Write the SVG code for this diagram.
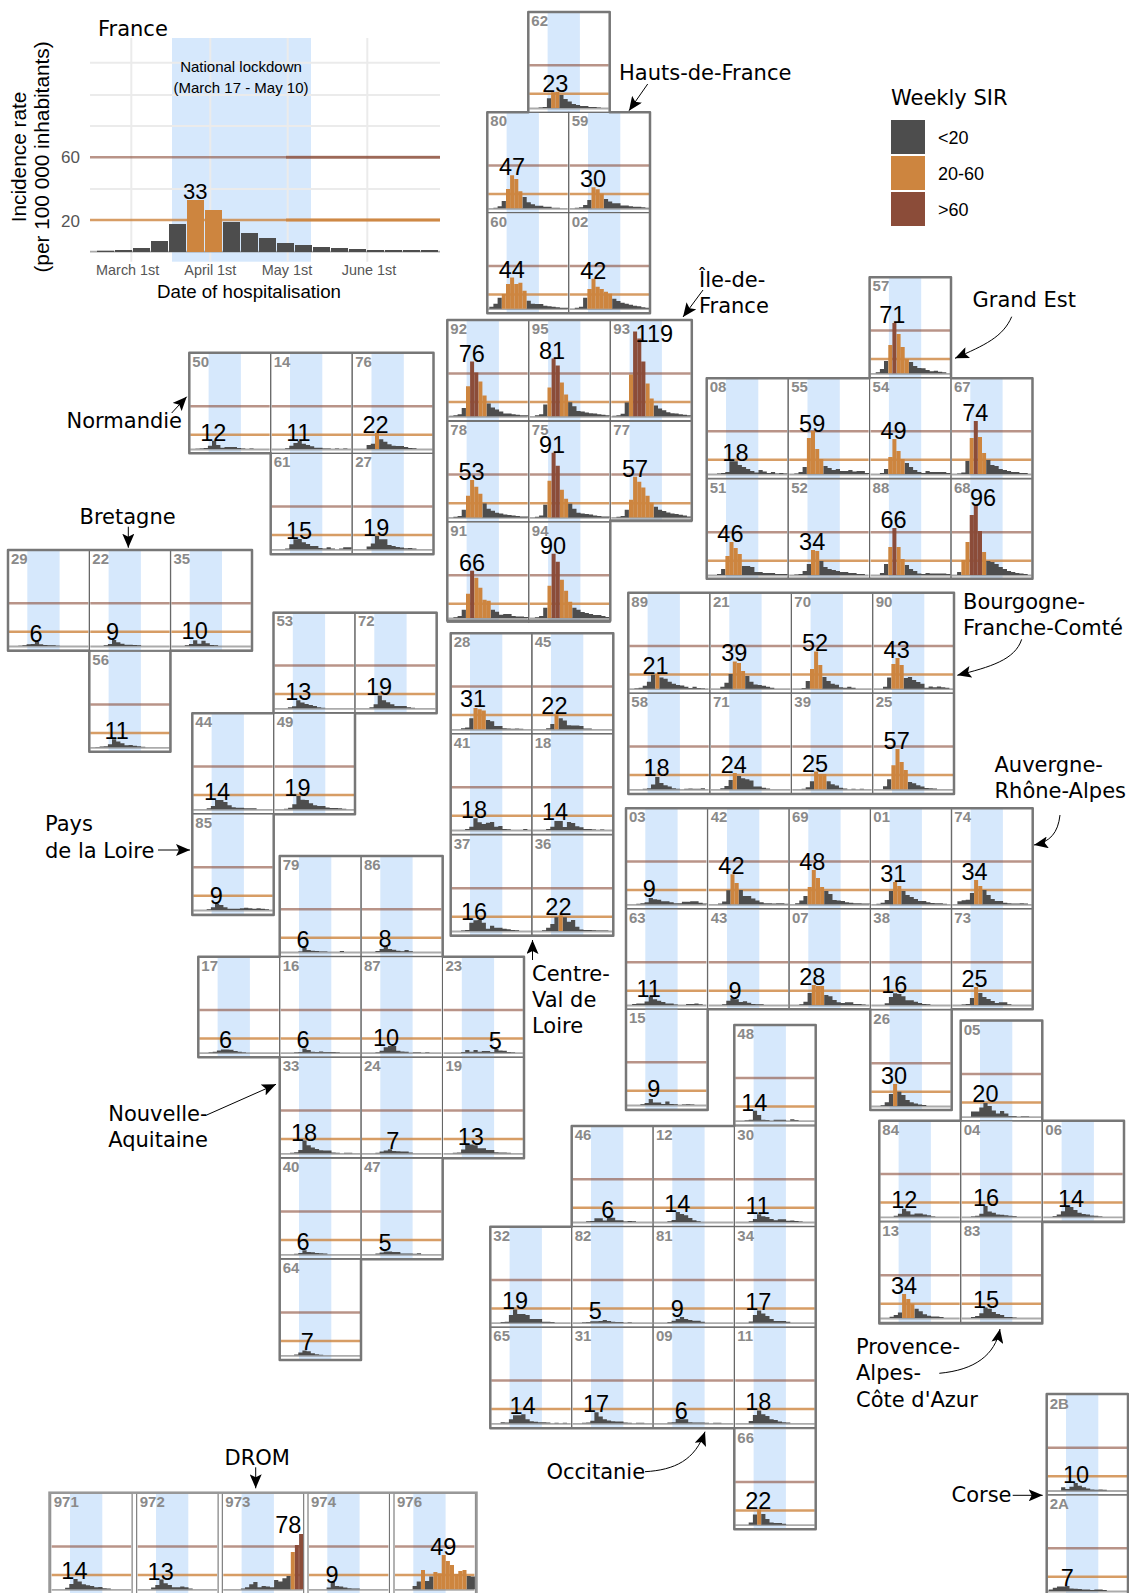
<svg xmlns="http://www.w3.org/2000/svg" width="1129" height="1593" viewBox="0 0 1129 1593">
<style>
text{font-family:"Liberation Sans",Arial,sans-serif;fill:#000}
.r{font-family:"DejaVu Sans",sans-serif;font-size:21px}
.n{font-size:15px;font-weight:bold;fill:#8a8a8a}
.v{font-size:23.5px;text-anchor:middle}
.t{font-size:14.4px;fill:#555;text-anchor:middle}
.d,.o,.b{fill:none;stroke-width:4}
.d{stroke:#4d4d4d;stroke-width:4.2}.o{stroke:#cd853f}.b{stroke:#8b4c39}
.d.f,.o.f{stroke-width:17}
.gl{stroke:#ebebeb;stroke-width:2;fill:none}
.lb{stroke:#8b4c39;stroke-opacity:.6;stroke-width:2.5}
.lo{stroke:#cd853f;stroke-opacity:.8;stroke-width:2.5}
.bs{stroke:#888;stroke-opacity:.7;stroke-width:1.8}
.bd{fill:#d6e8fc}
.cb{fill:none;stroke:#666;stroke-width:1}
.rg{fill:none;stroke:#777;stroke-width:2.5;stroke-linejoin:round}
.ar{fill:none;stroke:#000;stroke-width:1;marker-end:url(#a)}
</style>
<defs>
<marker id="a" markerUnits="userSpaceOnUse" markerWidth="15" markerHeight="12" refX="14" refY="6" orient="auto"><path d="M0 0L14 6 0 12 3 6z" fill="#000"/></marker>
<g id="c"><rect class="bd" x="19.3" y="-95.5" width="32.3" height="99.5"/><path class="lb" d="M1-42.8H80.4"/><path class="lo" d="M1-14.2H80.4"/><path class="bs" d="M1 .5H80.4"/><rect class="cb" y="-96" width="81.4" height="100.3"/></g>
</defs>
<rect width="1129" height="1593" fill="#fff"/>
<g id="france">
<rect class="bd" x="172" y="38" width="139" height="223.7"/>
<path class="gl" d="M90 62.7H440M90 95H440M90 126H440M90 189H440M131.3 38V261.7M210.3 38V261.7M287.7 38V261.7M367.3 38V261.7"/>
<path class="lb" d="M90 157.3H440"/><path stroke="#8b4c39" stroke-opacity=".6" stroke-width="3" d="M286 157.3H440"/>
<path class="lo" d="M90 220H440"/><path stroke="#cd853f" stroke-opacity=".85" stroke-width="3" d="M286 220H440"/>
<path class="bs" d="M90 251.7H440"/>
<path class="d f" d="M105.5 252V250.7M123.5 252V250M141.5 252V248M159.5 252V241M177.5 252V224M231.5 252V222M249.5 252V233M267.5 252V238M285.5 252V243M303.5 252V245M321.5 252V247M339.5 252V248M357.5 252V249M375.5 252V250M393.5 252V250M411.5 252V250M429.5 252V250"/>
<path class="o f" d="M195.5 252V200M213.5 252V210"/>
<text x="98" y="36" class="r">France</text>
<text x="241" y="71.7" text-anchor="middle" font-size="15">National lockdown</text>
<text x="241" y="92.7" text-anchor="middle" font-size="15">(March 17 - May 10)</text>
<text x="195.3" y="199" text-anchor="middle" font-size="22">33</text>
<text x="80" y="163.3" text-anchor="end" font-size="17" style="fill:#555">60</text>
<text x="80" y="226.7" text-anchor="end" font-size="17" style="fill:#555">20</text>
<text class="t" x="127.7" y="275">March 1st</text><text class="t" x="210.3" y="275">April 1st</text><text class="t" x="287" y="275">May 1st</text><text class="t" x="369" y="275">June 1st</text>
<text x="249" y="297.7" text-anchor="middle" font-size="18.7">Date of hospitalisation</text>
<text transform="translate(26 157) rotate(-90)" text-anchor="middle" font-size="20.8">Incidence rate</text>
<text transform="translate(49 157) rotate(-90)" text-anchor="middle" font-size="20.8">(per 100 000 inhabitants)</text>
</g>
<g id="legend">
<text class="r" x="891" y="105">Weekly SIR</text>
<rect x="891" y="120" width="34" height="34" fill="#4d4d4d"/><rect x="891" y="156" width="34" height="34" fill="#cd853f"/><rect x="891" y="192" width="34" height="34" fill="#8b4c39"/>
<text x="938" y="143.5" font-size="18">&lt;20</text><text x="938" y="179.8" font-size="18">20-60</text><text x="938" y="215.8" font-size="18">&gt;60</text>
</g>
<g id="c62" transform="translate(528.3 108)"><use href="#c"/><text class="n" x="3" y="-82">62</text><path class="d" d="M12.4 0V-.5M16.5 0V-1M20.7 0V-9.7M33.1 0V-13M37.3 0V-9M41.4 0V-6.5M45.6 0V-4M49.7 0V-3M53.9 0V-2M58 0V-2M62.2 0V-1M66.3 0V-1M70.5 0V-.5"/><path class="o" d="M24.8 0V-15.7M29 0V-16.3"/><text class="v" x="27" y="-16.5">23</text></g>
<g id="c80" transform="translate(487.3 208.3)"><use href="#c"/><text class="n" x="3" y="-82">80</text><path class="d" d="M8.2 0V-.5M12.4 0V-2M16.5 0V-7.3M37.3 0V-11.3M41.4 0V-6M45.6 0V-4M49.7 0V-2.5M53.9 0V-2.5M58 0V-1.5M62.2 0V-1.5M66.3 0V-.5M70.5 0V-.5"/><path class="o" d="M20.7 0V-19.3M24.8 0V-33M29 0V-29.3M33.1 0V-17"/><text class="v" x="24.7" y="-33">47</text></g>
<g id="c59" transform="translate(568.7 208.3)"><use href="#c"/><text class="n" x="3" y="-82">59</text><path class="d" d="M8.2 0V-.5M12.4 0V-1M16.5 0V-3.3M20.7 0V-8.3M37.3 0V-9.3M41.4 0V-6.7M45.6 0V-5M49.7 0V-5M53.9 0V-2.7M58 0V-2.7M62.2 0V-2M66.3 0V-1.5M70.5 0V-1.5M74.6 0V-1M78.8 0V-.5"/><path class="o" d="M24.8 0V-21M29 0V-19M33.1 0V-14.5"/><text class="v" x="24.4" y="-21">30</text></g>
<g id="c60" transform="translate(487.3 308.7)"><use href="#c"/><text class="n" x="3" y="-82">60</text><path class="d" d="M4.1 0V-2M8.2 0V-5M12.4 0V-11M41.4 0V-8M45.6 0V-5M49.7 0V-4.7M53.9 0V-4.7M58 0V-3M62.2 0V-2.5M66.3 0V-2M70.5 0V-1.5M74.6 0V-1M78.8 0V-1"/><path class="o" d="M16.5 0V-14.7M20.7 0V-24.7M24.8 0V-31.3M29 0V-24.7M33.1 0V-26M37.3 0V-18"/><text class="v" x="24.4" y="-31">44</text></g>
<g id="c02" transform="translate(568.7 308.7)"><use href="#c"/><text class="n" x="3" y="-82">02</text><path class="d" d="M8.2 0V-1M12.4 0V-2M16.5 0V-11M45.6 0V-10M49.7 0V-7.7M53.9 0V-6M58 0V-5M62.2 0V-4M66.3 0V-3M70.5 0V-2.5M74.6 0V-1.5M78.8 0V-1"/><path class="o" d="M20.7 0V-19.7M24.8 0V-30M29 0V-22M33.1 0V-19.7M37.3 0V-17M41.4 0V-15"/><text class="v" x="24.6" y="-30">42</text></g>
<g id="c92" transform="translate(447.3 416.3)"><use href="#c"/><text class="n" x="3" y="-82">92</text><path class="d" d="M4.1 0V-.5M8.2 0V-1M12.4 0V-2M16.5 0V-8.3M41.4 0V-12.7M45.6 0V-8.7M49.7 0V-6.7M53.9 0V-4.7M58 0V-2.7M62.2 0V-2.7M66.3 0V-2M70.5 0V-1.5M74.6 0V-1M78.8 0V-1"/><path class="o" d="M20.7 0V-30M33.1 0V-34.7M37.3 0V-20.7"/><path class="b" d="M24.8 0V-54.7M29 0V-43.7"/><text class="v" x="24.4" y="-54">76</text></g>
<g id="c95" transform="translate(528.8 416.3)"><use href="#c"/><text class="n" x="3" y="-82">95</text><path class="d" d="M8.2 0V-1M12.4 0V-2M16.5 0V-11.7M41.4 0V-14M45.6 0V-10M49.7 0V-5.3M53.9 0V-4.7M58 0V-3.7M62.2 0V-3M66.3 0V-2.7M70.5 0V-2M74.6 0V-1.5M78.8 0V-1"/><path class="o" d="M20.7 0V-28.7M33.1 0V-33.7M37.3 0V-21.7"/><path class="b" d="M24.8 0V-57.7M29 0V-50.7"/><text class="v" x="23.3" y="-57.4">81</text></g>
<g id="c93" transform="translate(610.3 416.3)"><use href="#c"/><text class="n" x="3" y="-82">93</text><path class="d" d="M4.1 0V-.5M8.2 0V-1M12.4 0V-2.5M16.5 0V-13.7M45.6 0V-10.7M49.7 0V-7.7M53.9 0V-6M58 0V-4M62.2 0V-3M66.3 0V-2.7M70.5 0V-2M74.6 0V-1.5M78.8 0V-1"/><path class="o" d="M20.7 0V-41.7M37.3 0V-32.7M41.4 0V-17.7"/><path class="b" d="M24.8 0V-84.7M29 0V-77.7M33.1 0V-54.7"/><text class="v" x="44" y="-74.6">119</text></g>
<g id="c78" transform="translate(447.3 517.4)"><use href="#c"/><text class="n" x="3" y="-82">78</text><path class="d" d="M8.2 0V-.7M12.4 0V-1.5M16.5 0V-7.7M37.3 0V-14M41.4 0V-8.7M45.6 0V-6.7M49.7 0V-4.7M53.9 0V-4M58 0V-3M62.2 0V-2.5M66.3 0V-2M70.5 0V-1.5M74.6 0V-1M78.8 0V-1"/><path class="o" d="M20.7 0V-21.7M24.8 0V-37.3M29 0V-30.7M33.1 0V-23.7"/><text class="v" x="24.3" y="-37.3">53</text></g>
<g id="c75" transform="translate(528.8 517.4)"><use href="#c"/><text class="n" x="3" y="-82">75</text><path class="d" d="M8.2 0V-.7M12.4 0V-2M16.5 0V-12.7M41.4 0V-13.7M45.6 0V-8.7M49.7 0V-4.7M53.9 0V-4M58 0V-3.5M62.2 0V-3M66.3 0V-2M70.5 0V-1.5M74.6 0V-1M78.8 0V-1"/><path class="o" d="M20.7 0V-36.7M33.1 0V-27.7M37.3 0V-18.7"/><path class="b" d="M24.8 0V-64.7M29 0V-51.7"/><text class="v" x="23.3" y="-64.7">91</text></g>
<g id="c77" transform="translate(610.3 517.4)"><use href="#c"/><text class="n" x="3" y="-82">77</text><path class="d" d="M8.2 0V-.7M12.4 0V-1.5M16.5 0V-7.7M45.6 0V-10.7M49.7 0V-7.7M53.9 0V-6.5M58 0V-5M62.2 0V-4M66.3 0V-3.3M70.5 0V-2.7M74.6 0V-2M78.8 0V-1"/><path class="o" d="M20.7 0V-17.7M24.8 0V-40.7M29 0V-35.7M33.1 0V-30M37.3 0V-21.7M41.4 0V-14.7"/><text class="v" x="24.7" y="-40.7">57</text></g>
<g id="c91" transform="translate(447.3 618)"><use href="#c"/><text class="n" x="3" y="-82">91</text><path class="d" d="M8.2 0V-.7M12.4 0V-2M16.5 0V-8.3M45.6 0V-8.3M49.7 0V-6.3M53.9 0V-3.3M58 0V-4M62.2 0V-4M66.3 0V-2M70.5 0V-1.5M74.6 0V-1.5M78.8 0V-1"/><path class="o" d="M20.7 0V-24.3M29 0V-40.3M33.1 0V-30.3M37.3 0V-18.3M41.4 0V-17.3"/><path class="b" d="M24.8 0V-47.3"/><text class="v" x="24.7" y="-47">66</text></g>
<g id="c94" transform="translate(528.8 618)"><use href="#c"/><text class="n" x="3" y="-82">94</text><path class="d" d="M8.2 0V-.7M12.4 0V-2M16.5 0V-10.3M45.6 0V-10.3M49.7 0V-8.3M53.9 0V-6M58 0V-5M62.2 0V-4M66.3 0V-3M70.5 0V-3M74.6 0V-2M78.8 0V-1"/><path class="o" d="M20.7 0V-32.3M33.1 0V-38.3M37.3 0V-27.3M41.4 0V-16.3"/><path class="b" d="M24.8 0V-64.3M29 0V-56.3"/><text class="v" x="24.3" y="-64">90</text></g>
<g id="c57" transform="translate(869.6 373.3)"><use href="#c"/><text class="n" x="3" y="-82">57</text><path class="d" d="M8.2 0V-1M12.4 0V-4.3M16.5 0V-12.3M41.4 0V-11.3M45.6 0V-7.3M49.7 0V-5.3M53.9 0V-5M58 0V-3.3M62.2 0V-2M66.3 0V-2.5M70.5 0V-1.5M74.6 0V-1"/><path class="o" d="M20.7 0V-28.3M29 0V-39.3M33.1 0V-26.3M37.3 0V-14.3"/><path class="b" d="M24.8 0V-50.3"/><text class="v" x="22.7" y="-50.3">71</text></g>
<g id="c08" transform="translate(706.7 474)"><use href="#c"/><text class="n" x="3" y="-82">08</text><path class="d" d="M12.4 0V-.5M16.5 0V-1M20.7 0V-2M24.8 0V-12.7M29 0V-12.7M33.1 0V-9M37.3 0V-7M41.4 0V-5M45.6 0V-3M49.7 0V-1.5M53.9 0V-4M58 0V-2.5M62.2 0V-1M66.3 0V-2M70.5 0V-.5M74.6 0V-1M78.8 0V-.5"/><text class="v" x="28.7" y="-13">18</text></g>
<g id="c55" transform="translate(788.2 474)"><use href="#c"/><text class="n" x="3" y="-82">55</text><path class="d" d="M8.2 0V-.5M12.4 0V-2M16.5 0V-7M37.3 0V-8M41.4 0V-6M45.6 0V-4M49.7 0V-5M53.9 0V-3M58 0V-3M62.2 0V-4M66.3 0V-2.5M70.5 0V-3M74.6 0V-3M78.8 0V-1"/><path class="o" d="M20.7 0V-36M24.8 0V-43M29 0V-25M33.1 0V-15"/><text class="v" x="24" y="-42">59</text></g>
<g id="c54" transform="translate(869.6 474)"><use href="#c"/><text class="n" x="3" y="-82">54</text><path class="d" d="M12.4 0V-1M16.5 0V-5M37.3 0V-11M41.4 0V-7M45.6 0V-4M49.7 0V-2M53.9 0V-1M58 0V-3M62.2 0V-2M66.3 0V-2M70.5 0V-2M74.6 0V-2M78.8 0V-1"/><path class="o" d="M20.7 0V-17M24.8 0V-35M29 0V-23M33.1 0V-15"/><text class="v" x="24" y="-35">49</text></g>
<g id="c67" transform="translate(951 474)"><use href="#c"/><text class="n" x="3" y="-82">67</text><path class="d" d="M8.2 0V-.5M12.4 0V-1.5M16.5 0V-13M37.3 0V-14M41.4 0V-9M45.6 0V-8M49.7 0V-5M53.9 0V-4M58 0V-3M62.2 0V-2M66.3 0V-2M70.5 0V-1M74.6 0V-1"/><path class="o" d="M20.7 0V-36M29 0V-37M33.1 0V-21"/><path class="b" d="M24.8 0V-53"/><text class="v" x="24.3" y="-53">74</text></g>
<g id="c51" transform="translate(706.7 575)"><use href="#c"/><text class="n" x="3" y="-82">51</text><path class="d" d="M12.4 0V-1M16.5 0V-6M37.3 0V-9M41.4 0V-9M45.6 0V-8M49.7 0V-3M53.9 0V-3M58 0V-2M62.2 0V-2M66.3 0V-2M70.5 0V-1M74.6 0V-1M78.8 0V-1"/><path class="o" d="M20.7 0V-19M24.8 0V-33M29 0V-27M33.1 0V-21"/><text class="v" x="23.7" y="-33">46</text></g>
<g id="c52" transform="translate(788.2 575)"><use href="#c"/><text class="n" x="3" y="-82">52</text><path class="d" d="M8.2 0V-.5M12.4 0V-1M16.5 0V-4M20.7 0V-11M33.1 0V-14M37.3 0V-8M41.4 0V-6M45.6 0V-5M49.7 0V-4M53.9 0V-3M58 0V-3M62.2 0V-2M66.3 0V-2M70.5 0V-1M74.6 0V-1"/><path class="o" d="M24.8 0V-25M29 0V-24"/><text class="v" x="24" y="-25">34</text></g>
<g id="c88" transform="translate(869.6 575)"><use href="#c"/><text class="n" x="3" y="-82">88</text><path class="d" d="M12.4 0V-2M16.5 0V-11M37.3 0V-10M41.4 0V-6M45.6 0V-4M49.7 0V-1.5M53.9 0V-1M58 0V-2M62.2 0V-1.5M66.3 0V-1.5M70.5 0V-1.5M74.6 0V-1.5M78.8 0V-1"/><path class="o" d="M20.7 0V-28M29 0V-28M33.1 0V-16"/><path class="b" d="M24.8 0V-47"/><text class="v" x="24" y="-47">66</text></g>
<g id="c68" transform="translate(951 575)"><use href="#c"/><text class="n" x="3" y="-82">68</text><path class="d" d="M8.2 0V-3M37.3 0V-14M41.4 0V-13M45.6 0V-11M49.7 0V-8M53.9 0V-6M58 0V-4M62.2 0V-3M66.3 0V-2M70.5 0V-1.5M74.6 0V-1"/><path class="o" d="M12.4 0V-15M16.5 0V-33M33.1 0V-23"/><path class="b" d="M20.7 0V-60M24.8 0V-70M29 0V-44"/><text class="v" x="32" y="-69">96</text></g>
<g id="c50" transform="translate(189.3 449)"><use href="#c"/><text class="n" x="3" y="-82">50</text><path class="d" d="M8.2 0V-.3M12.4 0V-.5M16.5 0V-1M20.7 0V-3.3M24.8 0V-8.3M29 0V-4M33.1 0V-1.3M37.3 0V-2M41.4 0V-2M45.6 0V-2M49.7 0V-1M53.9 0V-.5M62.2 0V-.5"/><text class="v" x="24" y="-8.5">12</text></g>
<g id="c14" transform="translate(270.7 449)"><use href="#c"/><text class="n" x="3" y="-82">14</text><path class="d" d="M16.5 0V-.7M20.7 0V-3.3M24.8 0V-6M29 0V-8M33.1 0V-5.3M37.3 0V-4M41.4 0V-2.7M45.6 0V-1.3M49.7 0V-1.3M53.9 0V-.5M58 0V-.5M66.3 0V-.5M74.6 0V-.5"/><text class="v" x="27.7" y="-8">11</text></g>
<g id="c76" transform="translate(352.2 449)"><use href="#c"/><text class="n" x="3" y="-82">76</text><path class="d" d="M16.5 0V-4M20.7 0V-5.3M29 0V-9.7M33.1 0V-7.3M37.3 0V-4.7M41.4 0V-3.3M45.6 0V-3M49.7 0V-3M53.9 0V-2M58 0V-1M62.2 0V-.7"/><path class="o" d="M24.8 0V-16"/><text class="v" x="23.3" y="-16">22</text></g>
<g id="c61" transform="translate(270.7 549.3)"><use href="#c"/><text class="n" x="3" y="-82">61</text><path class="d" d="M16.5 0V-.7M20.7 0V-5M24.8 0V-10M29 0V-10.3M33.1 0V-7M37.3 0V-5.3M41.4 0V-3.3M45.6 0V-3.3M49.7 0V-1.3M53.9 0V-.7M58 0V-2M62.2 0V-.7M70.5 0V-.7M74.6 0V-2M78.8 0V-2"/><text class="v" x="28.3" y="-10.5">15</text></g>
<g id="c27" transform="translate(352.2 549.3)"><use href="#c"/><text class="n" x="3" y="-82">27</text><path class="d" d="M16.5 0V-2.7M20.7 0V-5.7M24.8 0V-13.3M29 0V-10M33.1 0V-10M37.3 0V-4.3M41.4 0V-3.3M45.6 0V-2.3M49.7 0V-1.7M53.9 0V-1M58 0V-1.3M62.2 0V-.7"/><text class="v" x="24" y="-13.3">19</text></g>
<g id="c29" transform="translate(8 646)"><use href="#c"/><text class="n" x="3" y="-82">29</text><path class="d" d="M12.4 0V-.3M16.5 0V-.7M20.7 0V-1.7M24.8 0V-2M29 0V-4.2M33.1 0V-1.7M37.3 0V-1M41.4 0V-.7M45.6 0V-.7M49.7 0V-.3"/><text class="v" x="28" y="-4.5">6</text></g>
<g id="c22" transform="translate(89.3 646)"><use href="#c"/><text class="n" x="3" y="-82">22</text><path class="d" d="M16.5 0V-.7M20.7 0V-2M24.8 0V-6M29 0V-3.7M33.1 0V-2.3M37.3 0V-1.3M41.4 0V-1.3M45.6 0V-1M49.7 0V-.7"/><text class="v" x="23.3" y="-6.3">9</text></g>
<g id="c35" transform="translate(170.4 646)"><use href="#c"/><text class="n" x="3" y="-82">35</text><path class="d" d="M16.5 0V-.7M20.7 0V-2M24.8 0V-5.7M29 0V-2.3M33.1 0V-5.3M37.3 0V-2.7M41.4 0V-1M45.6 0V-.7"/><text class="v" x="24.3" y="-7">10</text></g>
<g id="c56" transform="translate(89.3 747.3)"><use href="#c"/><text class="n" x="3" y="-82">56</text><path class="d" d="M8.2 0V-.3M12.4 0V-.7M16.5 0V-1M20.7 0V-3M24.8 0V-8M29 0V-5.7M33.1 0V-4M37.3 0V-2M41.4 0V-2.3M45.6 0V-1.5M49.7 0V-1M53.9 0V-.5"/><text class="v" x="27.3" y="-8">11</text></g>
<g id="c53" transform="translate(273.5 708.3)"><use href="#c"/><text class="n" x="3" y="-82">53</text><path class="d" d="M16.5 0V-1M20.7 0V-2M24.8 0V-8M29 0V-5.7M33.1 0V-4.3M37.3 0V-3.3M41.4 0V-2.3M45.6 0V-1M49.7 0V-.5"/><text class="v" x="24.7" y="-8.7">13</text></g>
<g id="c72" transform="translate(355 708.3)"><use href="#c"/><text class="n" x="3" y="-82">72</text><path class="d" d="M16.5 0V-1M20.7 0V-4M24.8 0V-12.7M29 0V-8M33.1 0V-6M37.3 0V-4M41.4 0V-2.3M45.6 0V-2.3M49.7 0V-2.3M53.9 0V-1M58 0V-.5"/><text class="v" x="24" y="-13">19</text></g>
<g id="c44" transform="translate(192.3 809.3)"><use href="#c"/><text class="n" x="3" y="-82">44</text><path class="d" d="M16.5 0V-1M20.7 0V-3.3M24.8 0V-9.3M29 0V-9.3M33.1 0V-7.3M37.3 0V-4M41.4 0V-2M45.6 0V-1.5M49.7 0V-1.5M53.9 0V-1M58 0V-1M62.2 0V-1"/><text class="v" x="24.7" y="-9.7">14</text></g>
<g id="c49" transform="translate(273.7 809.3)"><use href="#c"/><text class="n" x="3" y="-82">49</text><path class="d" d="M12.4 0V-.5M16.5 0V-1.5M20.7 0V-5M24.8 0V-13.3M29 0V-9.5M33.1 0V-9.3M37.3 0V-6M41.4 0V-4M45.6 0V-3.3M49.7 0V-3.3M53.9 0V-1.7M58 0V-1.3M62.2 0V-1.3M66.3 0V-1M70.5 0V-.5"/><text class="v" x="23.7" y="-13.7">19</text></g>
<g id="c85" transform="translate(192.3 910)"><use href="#c"/><text class="n" x="3" y="-82">85</text><path class="d" d="M16.5 0V-.7M20.7 0V-2.7M24.8 0V-6.3M29 0V-5M33.1 0V-2.7M37.3 0V-1.3M41.4 0V-1.3M45.6 0V-1.3M49.7 0V-1.7M53.9 0V-2.3M58 0V-1.7M62.2 0V-1.3M66.3 0V-1.7M70.5 0V-1.3M74.6 0V-.7"/><text class="v" x="24" y="-6.3">9</text></g>
<g id="c28" transform="translate(450.7 729.3)"><use href="#c"/><text class="n" x="3" y="-82">28</text><path class="d" d="M12.4 0V-1M16.5 0V-1.7M20.7 0V-11M37.3 0V-9.3M41.4 0V-8M45.6 0V-3.3M49.7 0V-3.3M53.9 0V-1M58 0V-.7M62.2 0V-.5M66.3 0V-.7M70.5 0V-.5"/><path class="o" d="M24.8 0V-21.3M29 0V-20M33.1 0V-18.7"/><text class="v" x="22.3" y="-22">31</text></g>
<g id="c45" transform="translate(531.7 729.3)"><use href="#c"/><text class="n" x="3" y="-82">45</text><path class="d" d="M16.5 0V-1M20.7 0V-5.3M29 0V-11M33.1 0V-8.7M37.3 0V-4M41.4 0V-3.7M45.6 0V-3.7M49.7 0V-3.3M53.9 0V-.7M58 0V-.7"/><path class="o" d="M24.8 0V-15"/><text class="v" x="22.7" y="-15">22</text></g>
<g id="c41" transform="translate(450.7 830)"><use href="#c"/><text class="n" x="3" y="-82">41</text><path class="d" d="M16.5 0V-1M20.7 0V-3.3M24.8 0V-11.7M29 0V-7.7M33.1 0V-6M37.3 0V-7.3M41.4 0V-8M45.6 0V-3.3M49.7 0V-4M53.9 0V-1M58 0V-.7M74.6 0V-1"/><text class="v" x="23.3" y="-12">18</text></g>
<g id="c18" transform="translate(531.7 830)"><use href="#c"/><text class="n" x="3" y="-82">18</text><path class="d" d="M16.5 0V-1M20.7 0V-3.3M24.8 0V-9M29 0V-9M33.1 0V-3M37.3 0V-8M41.4 0V-7M45.6 0V-3.7M49.7 0V-2.7M53.9 0V-1M58 0V-1M62.2 0V-.5M70.5 0V-.5"/><text class="v" x="23.3" y="-10">14</text></g>
<g id="c37" transform="translate(450.7 931)"><use href="#c"/><text class="n" x="3" y="-82">37</text><path class="d" d="M12.4 0V-.5M16.5 0V-1M20.7 0V-8.3M24.8 0V-10.7M29 0V-11M33.1 0V-8.3M37.3 0V-2.3M41.4 0V-5.3M45.6 0V-3.3M49.7 0V-3.3M53.9 0V-2.3M58 0V-1.7M62.2 0V-1M66.3 0V-.7"/><text class="v" x="23.3" y="-11.3">16</text></g>
<g id="c36" transform="translate(531.7 931)"><use href="#c"/><text class="n" x="3" y="-82">36</text><path class="d" d="M12.4 0V-.7M16.5 0V-3.3M20.7 0V-7M24.8 0V-13.7M33.1 0V-13.7M37.3 0V-9.3M41.4 0V-11M45.6 0V-4.3M49.7 0V-1.5M53.9 0V-1M58 0V-1M62.2 0V-.7M66.3 0V-.5M70.5 0V-.5M74.6 0V-.5"/><path class="o" d="M29 0V-15.7"/><text class="v" x="26.7" y="-16">22</text></g>
<g id="c89" transform="translate(628.3 688.7)"><use href="#c"/><text class="n" x="3" y="-82">89</text><path class="d" d="M8.2 0V-.5M12.4 0V-1M16.5 0V-3M20.7 0V-7M24.8 0V-14M33.1 0V-11.3M37.3 0V-10M41.4 0V-7M45.6 0V-5M49.7 0V-3.7M53.9 0V-3.3M58 0V-2M62.2 0V-.7M66.3 0V-2M70.5 0V-.7M74.6 0V-.5"/><path class="o" d="M29 0V-14.7"/><text class="v" x="27.3" y="-15">21</text></g>
<g id="c21" transform="translate(710 688.7)"><use href="#c"/><text class="n" x="3" y="-82">21</text><path class="d" d="M12.4 0V-2M16.5 0V-6M20.7 0V-14.7M37.3 0V-12.7M41.4 0V-7M45.6 0V-4.3M49.7 0V-3.7M53.9 0V-3M58 0V-2M62.2 0V-1"/><path class="o" d="M24.8 0V-27.3M29 0V-25.7M33.1 0V-17.7"/><text class="v" x="24.3" y="-27.3">39</text></g>
<g id="c70" transform="translate(791.3 688.7)"><use href="#c"/><text class="n" x="3" y="-82">70</text><path class="d" d="M12.4 0V-.7M16.5 0V-7.7M33.1 0V-11.7M37.3 0V-7.7M41.4 0V-5M45.6 0V-4M49.7 0V-1.5M53.9 0V-1M58 0V-2M62.2 0V-1"/><path class="o" d="M20.7 0V-19.7M24.8 0V-37.3M29 0V-23.7"/><text class="v" x="23.7" y="-37.3">52</text></g>
<g id="c90" transform="translate(872.7 688.7)"><use href="#c"/><text class="n" x="3" y="-82">90</text><path class="d" d="M12.4 0V-2M16.5 0V-11.3M33.1 0V-10.7M37.3 0V-11.7M41.4 0V-8.7M45.6 0V-6.7M49.7 0V-5M53.9 0V-1M58 0V-2.3M62.2 0V-1.5M66.3 0V-2.3M70.5 0V-1.5M74.6 0V-1"/><path class="o" d="M20.7 0V-24.7M24.8 0V-30.7M29 0V-23.7"/><text class="v" x="24" y="-30.7">43</text></g>
<g id="c58" transform="translate(628.3 789.3)"><use href="#c"/><text class="n" x="3" y="-82">58</text><path class="d" d="M16.5 0V-.5M20.7 0V-1M24.8 0V-4.7M29 0V-12.3M33.1 0V-6.3M37.3 0V-4M41.4 0V-2.7M45.6 0V-1M49.7 0V-.5M58 0V-.5M62.2 0V-.7M66.3 0V-.5M70.5 0V-.5M74.6 0V-1"/><text class="v" x="28.3" y="-13">18</text></g>
<g id="c71" transform="translate(710 789.3)"><use href="#c"/><text class="n" x="3" y="-82">71</text><path class="d" d="M12.4 0V-1M16.5 0V-3.3M20.7 0V-9.3M29 0V-13.3M33.1 0V-11M37.3 0V-10M41.4 0V-8.7M45.6 0V-2.7M49.7 0V-2.7M53.9 0V-1.5M58 0V-.7"/><path class="o" d="M24.8 0V-16.3"/><text class="v" x="23.7" y="-16.3">24</text></g>
<g id="c39" transform="translate(791.3 789.3)"><use href="#c"/><text class="n" x="3" y="-82">39</text><path class="d" d="M12.4 0V-.5M16.5 0V-2M20.7 0V-8M37.3 0V-8M41.4 0V-5M45.6 0V-3.7M49.7 0V-1.5M53.9 0V-.7M62.2 0V-.5M70.5 0V-.5"/><path class="o" d="M24.8 0V-17.7M29 0V-15.3M33.1 0V-15.3"/><text class="v" x="23.7" y="-17.7">25</text></g>
<g id="c25" transform="translate(872.7 789.3)"><use href="#c"/><text class="n" x="3" y="-82">25</text><path class="d" d="M12.4 0V-3M16.5 0V-10M37.3 0V-7.3M41.4 0V-6M45.6 0V-4M49.7 0V-2.7M53.9 0V-1.3M58 0V-1M62.2 0V-.7"/><path class="o" d="M20.7 0V-24M24.8 0V-40.3M29 0V-27.3M33.1 0V-19.3"/><text class="v" x="24" y="-40.3">57</text></g>
<g id="c03" transform="translate(626 904.3)"><use href="#c"/><text class="n" x="3" y="-82">03</text><path class="d" d="M12.4 0V-.5M16.5 0V-1M20.7 0V-2M24.8 0V-6.3M29 0V-5M33.1 0V-4.5M37.3 0V-3M41.4 0V-3M45.6 0V-2M49.7 0V-1M53.9 0V-1M58 0V-2.5M62.2 0V-2.5M66.3 0V-3M70.5 0V-3M74.6 0V-1.5M78.8 0V-.7"/><text class="v" x="23.3" y="-7.7">9</text></g>
<g id="c42" transform="translate(707.7 904.3)"><use href="#c"/><text class="n" x="3" y="-82">42</text><path class="d" d="M12.4 0V-.7M16.5 0V-2.7M20.7 0V-14M33.1 0V-14.3M37.3 0V-8.3M41.4 0V-8.3M45.6 0V-5.7M49.7 0V-3.7M53.9 0V-2M58 0V-1M62.2 0V-1M66.3 0V-.7M70.5 0V-1M74.6 0V-1M78.8 0V-.5"/><path class="o" d="M24.8 0V-30M29 0V-21.3"/><text class="v" x="23.7" y="-30">42</text></g>
<g id="c69" transform="translate(789 904.3)"><use href="#c"/><text class="n" x="3" y="-82">69</text><path class="d" d="M8.2 0V-1M12.4 0V-3.7M16.5 0V-8.3M37.3 0V-13.3M41.4 0V-10.3M45.6 0V-4.3M49.7 0V-3.7M53.9 0V-3.3M58 0V-2M62.2 0V-1.5M66.3 0V-1M70.5 0V-1M74.6 0V-.7M78.8 0V-.7"/><path class="o" d="M20.7 0V-17.3M24.8 0V-34.3M29 0V-26.3M33.1 0V-17.3"/><text class="v" x="23.3" y="-34.3">48</text></g>
<g id="c01" transform="translate(870.3 904.3)"><use href="#c"/><text class="n" x="3" y="-82">01</text><path class="d" d="M8.2 0V-.5M12.4 0V-1.5M16.5 0V-4.3M20.7 0V-13.3M33.1 0V-13.3M37.3 0V-9.3M41.4 0V-7.3M45.6 0V-5.3M49.7 0V-3.3M53.9 0V-3.3M58 0V-2M62.2 0V-1.3M66.3 0V-1M70.5 0V-1M74.6 0V-.5"/><path class="o" d="M24.8 0V-22.3M29 0V-18.3"/><text class="v" x="23" y="-22.3">31</text></g>
<g id="c74" transform="translate(951.3 904.3)"><use href="#c"/><text class="n" x="3" y="-82">74</text><path class="d" d="M8.2 0V-3M12.4 0V-4M16.5 0V-4.5M20.7 0V-11.3M33.1 0V-14.3M37.3 0V-9.3M41.4 0V-5.3M45.6 0V-3.3M49.7 0V-3.3M53.9 0V-1.5M58 0V-1M62.2 0V-.7M66.3 0V-.7M70.5 0V-1M74.6 0V-.7"/><path class="o" d="M24.8 0V-24.3M29 0V-18.3"/><text class="v" x="23.3" y="-24.3">34</text></g>
<g id="c63" transform="translate(626 1005)"><use href="#c"/><text class="n" x="3" y="-82">63</text><path class="d" d="M8.2 0V-1M12.4 0V-1.5M16.5 0V-1.5M20.7 0V-3.5M24.8 0V-8M29 0V-5.7M33.1 0V-4.3M37.3 0V-3M41.4 0V-1.5M45.6 0V-1.5M49.7 0V-.5M62.2 0V-1M66.3 0V-1M70.5 0V-1.5M74.6 0V-.7"/><text class="v" x="22.7" y="-8.3">11</text></g>
<g id="c43" transform="translate(707.7 1005)"><use href="#c"/><text class="n" x="3" y="-82">43</text><path class="d" d="M16.5 0V-.7M20.7 0V-4.3M24.8 0V-6.7M29 0V-5.7M33.1 0V-3M37.3 0V-3.7M41.4 0V-2.3M45.6 0V-1M49.7 0V-.7M53.9 0V-.7"/><text class="v" x="27.3" y="-6.5">9</text></g>
<g id="c07" transform="translate(789 1005)"><use href="#c"/><text class="n" x="3" y="-82">07</text><path class="d" d="M12.4 0V-.7M16.5 0V-3.3M20.7 0V-12M37.3 0V-10M41.4 0V-8.7M45.6 0V-5M49.7 0V-2.7M53.9 0V-2M58 0V-2.7M62.2 0V-2.7M66.3 0V-1M70.5 0V-1M74.6 0V-.5"/><path class="o" d="M24.8 0V-20M29 0V-19M33.1 0V-19"/><text class="v" x="23.3" y="-20">28</text></g>
<g id="c38" transform="translate(870.3 1005)"><use href="#c"/><text class="n" x="3" y="-82">38</text><path class="d" d="M16.5 0V-1.7M20.7 0V-8M24.8 0V-11.7M29 0V-11M33.1 0V-8.7M37.3 0V-4.7M41.4 0V-4.7M45.6 0V-3.3M49.7 0V-2M53.9 0V-1M58 0V-.7"/><text class="v" x="24" y="-12">16</text></g>
<g id="c73" transform="translate(951.3 1005)"><use href="#c"/><text class="n" x="3" y="-82">73</text><path class="d" d="M12.4 0V-.5M16.5 0V-1M20.7 0V-7M29 0V-12M33.1 0V-8M37.3 0V-6M41.4 0V-4M45.6 0V-2M49.7 0V-2.7M53.9 0V-2.7M58 0V-.7"/><path class="o" d="M24.8 0V-18"/><text class="v" x="23.3" y="-18">25</text></g>
<g id="c15" transform="translate(626 1105)"><use href="#c"/><text class="n" x="3" y="-82">15</text><path class="d" d="M16.5 0V-.7M20.7 0V-2M24.8 0V-6M29 0V-2.5M33.1 0V-2.5M37.3 0V-1M41.4 0V-3.5M45.6 0V-1M49.7 0V-.7M58 0V-.5M62.2 0V-.7M66.3 0V-.5"/><text class="v" x="27.7" y="-8">9</text></g>
<g id="c26" transform="translate(870.3 1106)"><use href="#c"/><text class="n" x="3" y="-82">26</text><path class="d" d="M12.4 0V-.7M16.5 0V-3.7M20.7 0V-12M29 0V-14.3M33.1 0V-11M37.3 0V-6M41.4 0V-3.7M45.6 0V-2.5M49.7 0V-1.5M53.9 0V-1"/><path class="o" d="M24.8 0V-22"/><text class="v" x="23.7" y="-22">30</text></g>
<g id="c05" transform="translate(960.7 1116.7)"><use href="#c"/><text class="n" x="3" y="-82">05</text><path class="d" d="M12.4 0V-5.2M16.5 0V-5.2M20.7 0V-9.3M24.8 0V-13.8M29 0V-10.8M33.1 0V-6.3M37.3 0V-3.3M41.4 0V-5.6M45.6 0V-3.3M49.7 0V-.7M53.9 0V-.7M62.2 0V-.5M66.3 0V-.5"/><text class="v" x="24.7" y="-14.5">20</text></g>
<g id="c84" transform="translate(879.3 1216.8)"><use href="#c"/><text class="n" x="3" y="-82">84</text><path class="d" d="M16.5 0V-1M20.7 0V-3M24.8 0V-8M29 0V-5.5M33.1 0V-2.2M37.3 0V-3.3M41.4 0V-3.3M45.6 0V-2.2M49.7 0V-1.5M53.9 0V-.5"/><text class="v" x="25" y="-8.5">12</text></g>
<g id="c04" transform="translate(960.7 1216.8)"><use href="#c"/><text class="n" x="3" y="-82">04</text><path class="d" d="M12.4 0V-.5M16.5 0V-1M20.7 0V-3M24.8 0V-10.8M29 0V-5.2M33.1 0V-4M37.3 0V-2.2M41.4 0V-2M45.6 0V-1.5M49.7 0V-1M53.9 0V-.7"/><text class="v" x="25.3" y="-11.3">16</text></g>
<g id="c06" transform="translate(1042.3 1216.8)"><use href="#c"/><text class="n" x="3" y="-82">06</text><path class="d" d="M12.4 0V-.7M16.5 0V-2.2M20.7 0V-5.6M24.8 0V-9.9M29 0V-9.9M33.1 0V-6.7M37.3 0V-4M41.4 0V-2.8M45.6 0V-2.2M49.7 0V-1.3M53.9 0V-1M58 0V-.5"/><text class="v" x="28.7" y="-10">14</text></g>
<g id="c13" transform="translate(879.3 1318)"><use href="#c"/><text class="n" x="3" y="-82">13</text><path class="d" d="M12.4 0V-1.3M16.5 0V-3M20.7 0V-5.6M37.3 0V-9.3M41.4 0V-6.7M45.6 0V-3.7M49.7 0V-2.2M53.9 0V-1.5M58 0V-1.5M62.2 0V-1"/><path class="o" d="M24.8 0V-24M29 0V-19M33.1 0V-14.2"/><text class="v" x="24.7" y="-24">34</text></g>
<g id="c83" transform="translate(960.7 1318)"><use href="#c"/><text class="n" x="3" y="-82">83</text><path class="d" d="M12.4 0V-1M16.5 0V-2M20.7 0V-4.8M24.8 0V-10.4M29 0V-9.3M33.1 0V-6M37.3 0V-4M41.4 0V-3M45.6 0V-1M49.7 0V-1M53.9 0V-.5"/><text class="v" x="25.3" y="-10.4">15</text></g>
<g id="c2B" transform="translate(1046.7 1490.5)"><use href="#c"/><text class="n" x="3" y="-82">2B</text><path class="d" d="M16.5 0V-3.3M20.7 0V-1.5M24.8 0V-3.7M29 0V-7.4M33.1 0V-4.8M37.3 0V-3.3M41.4 0V-2M45.6 0V-1M49.7 0V-.7M53.9 0V-1M58 0V-.7"/><text class="v" x="29.3" y="-7.5">10</text></g>
<g id="c2A" transform="translate(1046.7 1591)"><use href="#c"/><text class="n" x="3" y="-82">2A</text><path class="d" d="M4.1 0V-1.5M8.2 0V-3.3M12.4 0V-4.5M16.5 0V-4.5M20.7 0V-5M24.8 0V-2.6M29 0V-2.2M33.1 0V-2M37.3 0V-1.5M41.4 0V-1.5M45.6 0V-1M49.7 0V-1.5M53.9 0V-1.5M58 0V-1"/><text class="v" x="20.7" y="-5">7</text></g>
<g id="c48" transform="translate(734.3 1120.7)"><use href="#c"/><text class="n" x="3" y="-82">48</text><path class="d" d="M12.4 0V-.5M16.5 0V-1M20.7 0V-10M24.8 0V-5.7M29 0V-1M33.1 0V-.7M41.4 0V-1M45.6 0V-1M49.7 0V-1M58 0V-1.5M62.2 0V-.7"/><text class="v" x="20" y="-10">14</text></g>
<g id="c46" transform="translate(571.7 1222)"><use href="#c"/><text class="n" x="3" y="-82">46</text><path class="d" d="M16.5 0V-.7M20.7 0V-1M24.8 0V-3.7M29 0V-3.7M33.1 0V-1.5M37.3 0V-4.3M41.4 0V-4.3M45.6 0V-1.7M49.7 0V-1.7M53.9 0V-.5M58 0V-1M62.2 0V-.7"/><text class="v" x="36" y="-4.3">6</text></g>
<g id="c12" transform="translate(653 1222)"><use href="#c"/><text class="n" x="3" y="-82">12</text><path class="d" d="M16.5 0V-.7M20.7 0V-2M24.8 0V-10M29 0V-8M33.1 0V-6.7M37.3 0V-4M41.4 0V-1.7M45.6 0V-.7"/><text class="v" x="24.3" y="-10">14</text></g>
<g id="c30" transform="translate(734.3 1222)"><use href="#c"/><text class="n" x="3" y="-82">30</text><path class="d" d="M16.5 0V-.7M20.7 0V-3M24.8 0V-7.7M29 0V-5.7M33.1 0V-5M37.3 0V-3M41.4 0V-1.7M45.6 0V-2.7M49.7 0V-2.7M53.9 0V-1.3M58 0V-1.5M62.2 0V-1M66.3 0V-.5"/><text class="v" x="23.3" y="-8">11</text></g>
<g id="c32" transform="translate(490.3 1322.7)"><use href="#c"/><text class="n" x="3" y="-82">32</text><path class="d" d="M12.4 0V-.7M16.5 0V-1M20.7 0V-7.7M24.8 0V-13.3M29 0V-8.7M33.1 0V-8.7M37.3 0V-7.7M41.4 0V-3.7M45.6 0V-3.7M49.7 0V-3.7M53.9 0V-1M58 0V-1M62.2 0V-.7"/><text class="v" x="24.7" y="-13.3">19</text></g>
<g id="c82" transform="translate(571.7 1322.7)"><use href="#c"/><text class="n" x="3" y="-82">82</text><path class="d" d="M12.4 0V-.5M16.5 0V-.7M20.7 0V-1.5M24.8 0V-1.5M29 0V-1.7M33.1 0V-2.7M37.3 0V-1.7M41.4 0V-1M45.6 0V-.7M49.7 0V-.7M58 0V-.5"/><text class="v" x="23.7" y="-3.7">5</text></g>
<g id="c81" transform="translate(653 1322.7)"><use href="#c"/><text class="n" x="3" y="-82">81</text><path class="d" d="M16.5 0V-.7M20.7 0V-2M24.8 0V-3.7M29 0V-5.7M33.1 0V-3.7M37.3 0V-2.7M41.4 0V-2M45.6 0V-2M49.7 0V-1"/><text class="v" x="24.3" y="-6">9</text></g>
<g id="c34" transform="translate(734.3 1322.7)"><use href="#c"/><text class="n" x="3" y="-82">34</text><path class="d" d="M16.5 0V-1.3M20.7 0V-7.7M24.8 0V-12.3M29 0V-9.3M33.1 0V-6.7M37.3 0V-3.7M41.4 0V-1.7M45.6 0V-1.7M49.7 0V-1.7M53.9 0V-1"/><text class="v" x="24" y="-12.3">17</text></g>
<g id="c65" transform="translate(490.3 1423.3)"><use href="#c"/><text class="n" x="3" y="-82">65</text><path class="d" d="M12.4 0V-1M16.5 0V-.7M20.7 0V-4M24.8 0V-8M29 0V-8M33.1 0V-9M37.3 0V-4M41.4 0V-2M45.6 0V-1.5M49.7 0V-1M53.9 0V-1M58 0V-.7M66.3 0V-.5M74.6 0V-.5"/><text class="v" x="32.3" y="-9.5">14</text></g>
<g id="c31" transform="translate(571.7 1423.3)"><use href="#c"/><text class="n" x="3" y="-82">31</text><path class="d" d="M12.4 0V-.5M16.5 0V-.7M20.7 0V-2.5M24.8 0V-11M29 0V-6.7M33.1 0V-4M37.3 0V-2.7M41.4 0V-2M45.6 0V-1.7M49.7 0V-1.7M53.9 0V-.7M58 0V-.5M66.3 0V-.5M70.5 0V-.5"/><text class="v" x="24.3" y="-11.3">17</text></g>
<g id="c09" transform="translate(653 1423.3)"><use href="#c"/><text class="n" x="3" y="-82">09</text><path class="d" d="M16.5 0V-.7M20.7 0V-1M24.8 0V-4.3M29 0V-4M33.1 0V-4M37.3 0V-1M41.4 0V-.7M45.6 0V-.7M49.7 0V-.7M53.9 0V-.5M62.2 0V-.5M66.3 0V-.5"/><text class="v" x="28.3" y="-4.5">6</text></g>
<g id="c11" transform="translate(734.3 1423.3)"><use href="#c"/><text class="n" x="3" y="-82">11</text><path class="d" d="M16.5 0V-2.3M20.7 0V-8.3M24.8 0V-12.7M29 0V-9M33.1 0V-7.3M37.3 0V-4M41.4 0V-3.3M45.6 0V-1.7M49.7 0V-1M53.9 0V-.7"/><text class="v" x="24" y="-13">18</text></g>
<g id="c66" transform="translate(734.3 1524.7)"><use href="#c"/><text class="n" x="3" y="-82">66</text><path class="d" d="M16.5 0V-2.3M20.7 0V-10.3M29 0V-10.7M33.1 0V-5.7M37.3 0V-2.3M41.4 0V-1.7M45.6 0V-1.7M49.7 0V-1"/><path class="o" d="M24.8 0V-15.3"/><text class="v" x="24" y="-15.3">22</text></g>
<g id="c79" transform="translate(279.7 952)"><use href="#c"/><text class="n" x="3" y="-82">79</text><path class="d" d="M20.7 0V-.5M24.8 0V-4.3M29 0V-2M33.1 0V-1.3M37.3 0V-1M41.4 0V-.5M45.6 0V-.5M62.2 0V-1"/><text class="v" x="23.3" y="-4.3">6</text></g>
<g id="c86" transform="translate(361 952)"><use href="#c"/><text class="n" x="3" y="-82">86</text><path class="d" d="M16.5 0V-1M20.7 0V-3M24.8 0V-5.3M29 0V-3M33.1 0V-2.3M37.3 0V-1.3M41.4 0V-.7M45.6 0V-2M49.7 0V-.7"/><text class="v" x="24" y="-5.5">8</text></g>
<g id="c17" transform="translate(198.3 1052.7)"><use href="#c"/><text class="n" x="3" y="-82">17</text><path class="d" d="M12.4 0V-.5M16.5 0V-1M20.7 0V-2.3M24.8 0V-3.3M29 0V-3.3M33.1 0V-3M37.3 0V-1.7M41.4 0V-1M45.6 0V-.5"/><text class="v" x="27.3" y="-4.3">6</text></g>
<g id="c16" transform="translate(279.7 1052.7)"><use href="#c"/><text class="n" x="3" y="-82">16</text><path class="d" d="M16.5 0V-.5M20.7 0V-.7M24.8 0V-4.3M29 0V-2.7M33.1 0V-1M37.3 0V-.7M41.4 0V-1.3M45.6 0V-.7M49.7 0V-.7M53.9 0V-.7M58 0V-.5"/><text class="v" x="23.3" y="-4.3">6</text></g>
<g id="c87" transform="translate(361 1052.7)"><use href="#c"/><text class="n" x="3" y="-82">87</text><path class="d" d="M16.5 0V-.5M20.7 0V-2M24.8 0V-5.5M29 0V-6.7M33.1 0V-6.7M37.3 0V-2M41.4 0V-1.3M45.6 0V-1M53.9 0V-.5M58 0V-.5M66.3 0V-.5"/><text class="v" x="25" y="-7">10</text></g>
<g id="c23" transform="translate(442.5 1052.7)"><use href="#c"/><text class="n" x="3" y="-82">23</text><path class="d" d="M20.7 0V-.7M24.8 0V-2.7M29 0V-1M33.1 0V-2.7M37.3 0V-1M41.4 0V-1.7M45.6 0V-1.7M49.7 0V-.7M53.9 0V-3.7M58 0V-2.3M62.2 0V-2M66.3 0V-.7M70.5 0V-.5"/><text class="v" x="52.7" y="-3.7">5</text></g>
<g id="c33" transform="translate(279.7 1153.3)"><use href="#c"/><text class="n" x="3" y="-82">33</text><path class="d" d="M12.4 0V-.5M16.5 0V-1M20.7 0V-3.3M24.8 0V-12.7M29 0V-8M33.1 0V-5.7M37.3 0V-4.3M41.4 0V-3M45.6 0V-2.7M49.7 0V-2.7M53.9 0V-.7M58 0V-.5M66.3 0V-.5M70.5 0V-.5"/><text class="v" x="24.3" y="-12.7">18</text></g>
<g id="c24" transform="translate(361 1153.3)"><use href="#c"/><text class="n" x="3" y="-82">24</text><path class="d" d="M16.5 0V-.5M20.7 0V-1.7M24.8 0V-2.7M29 0V-4M33.1 0V-2.3M37.3 0V-2M41.4 0V-1.7M45.6 0V-1.7M49.7 0V-.7"/><text class="v" x="31.7" y="-4.3">7</text></g>
<g id="c19" transform="translate(442.5 1153.3)"><use href="#c"/><text class="n" x="3" y="-82">19</text><path class="d" d="M12.4 0V-.5M16.5 0V-.7M20.7 0V-3.7M24.8 0V-8.5M29 0V-8.7M33.1 0V-8M37.3 0V-5M41.4 0V-5M45.6 0V-3.3M49.7 0V-3.3M53.9 0V-1M58 0V-.7M62.2 0V-.7M66.3 0V-.5"/><text class="v" x="28.3" y="-8.7">13</text></g>
<g id="c40" transform="translate(279.7 1254.3)"><use href="#c"/><text class="n" x="3" y="-82">40</text><path class="d" d="M16.5 0V-.5M20.7 0V-1.3M24.8 0V-4M29 0V-2.3M33.1 0V-2M37.3 0V-1.3M41.4 0V-1M45.6 0V-.7"/><text class="v" x="23.3" y="-4">6</text></g>
<g id="c47" transform="translate(361 1254.3)"><use href="#c"/><text class="n" x="3" y="-82">47</text><path class="d" d="M16.5 0V-.7M20.7 0V-1.7M24.8 0V-2.7M29 0V-2.7M33.1 0V-2.3M37.3 0V-2.3M41.4 0V-.7M45.6 0V-.7M49.7 0V-.7M53.9 0V-.5M58 0V-1"/><text class="v" x="24" y="-3">5</text></g>
<g id="c64" transform="translate(279.7 1355.3)"><use href="#c"/><text class="n" x="3" y="-82">64</text><path class="d" d="M16.5 0V-.7M20.7 0V-2.7M24.8 0V-4.7M29 0V-4M33.1 0V-2M37.3 0V-1M41.4 0V-.5"/><text class="v" x="27.7" y="-5">7</text></g>
<g id="c971" transform="translate(50.7 1589.3)"><use href="#c"/><text class="n" x="3" y="-82">971</text><path class="d" d="M16.5 0V-1.5M20.7 0V-5.3M24.8 0V-10.3M29 0V-7.7M33.1 0V-5M37.3 0V-4M41.4 0V-3.3M45.6 0V-2M49.7 0V-2.3M53.9 0V-1M58 0V-.7"/><text class="v" x="23.7" y="-10">14</text></g>
<g id="c972" transform="translate(136.7 1589.3)"><use href="#c"/><text class="n" x="3" y="-82">972</text><path class="d" d="M16.5 0V-1.7M20.7 0V-4.3M24.8 0V-9.7M29 0V-6M33.1 0V-4.3M37.3 0V-2M41.4 0V-2M45.6 0V-2.7M49.7 0V-2M53.9 0V-.7"/><text class="v" x="24" y="-9">13</text></g>
<g id="c973" transform="translate(222.3 1589.3)"><use href="#c"/><text class="n" x="3" y="-82">973</text><path class="d" d="M20.7 0V-.7M24.8 0V-2M29 0V-5M33.1 0V-7.3M37.3 0V-2M41.4 0V-3.3M45.6 0V-2.7M49.7 0V-2M53.9 0V-9.3M58 0V-7.7M62.2 0V-11M66.3 0V-13.3"/><path class="o" d="M70.5 0V-37.3"/><path class="b" d="M74.6 0V-44.3M78.8 0V-55.3"/><text class="v" x="66" y="-56">78</text></g>
<g id="c974" transform="translate(308 1589.3)"><use href="#c"/><text class="n" x="3" y="-82">974</text><path class="d" d="M20.7 0V-1.7M24.8 0V-7.3M29 0V-3.3M33.1 0V-2.7M37.3 0V-1.7M41.4 0V-1M45.6 0V-.7M49.7 0V-.7"/><text class="v" x="24" y="-6.5">9</text></g>
<g id="c976" transform="translate(394 1589.3)"><use href="#c"/><text class="n" x="3" y="-82">976</text><path class="d" d="M20.7 0V-3.3M24.8 0V-7.7M33.1 0V-8.3M37.3 0V-12.7M74.6 0V-13.3M78.8 0V-12.7"/><path class="o" d="M29 0V-19.3M41.4 0V-17.3M45.6 0V-16M49.7 0V-34.3M53.9 0V-28.3M58 0V-24.3M62.2 0V-15.3M66.3 0V-18.3M70.5 0V-19.3"/><text class="v" x="49.3" y="-34.5">49</text></g>
<g id="regions">
<path id="r-hdf" class="rg" d="M528.3 12H609.7V112.3H650V313.3H487.3V112.3H528.3Z"/>
<path id="r-idf" class="rg" d="M447.3 320H691.8V520.5H610.3V620.8H447.3Z"/>
<path id="r-ge" class="rg" d="M869.6 277.3H951V378.3H1032.5V578.7H706.7V378.3H869.6Z"/>
<path id="r-nor" class="rg" d="M189.3 352.7H433.5V554.3H270.7V453.3H189.3Z"/>
<path id="r-bre" class="rg" d="M8 550H252V650.7H170.4V751.7H89.3V650.7H8Z"/>
<path id="r-pdl" class="rg" d="M273.5 612.7H436.7V713.3H355V814.3H273.7V915H192.3V713.3H273.5Z"/>
<path id="r-cvl" class="rg" d="M450.7 633.3H613.3V935.7H450.7Z"/>
<path id="r-bfc" class="rg" d="M628.3 592.7H954V794H628.3Z"/>
<path id="r-ara" class="rg" d="M626 808.3H1032.7V1009.3H951.7V1110H870.3V1009.3H707.7V1110H626Z"/>
<path id="r-pac" class="rg" d="M960.7 1020.4H1042.3V1120.8H1124V1222H1042.3V1323.5H879.3V1120.8H960.7Z"/>
<path id="r-occ" class="rg" d="M734.3 1025H815.7V1529.3H734.3V1428.3H490.3V1226.7H571.7V1126H734.3Z"/>
<path id="r-naq" class="rg" d="M279.7 856H442.7V956.7H524V1158.3H442.7V1259.3H361V1360H279.7V1057.3H198.3V956.7H279.7Z"/>
<path id="r-cor" class="rg" d="M1046.7 1394H1128V1596H1046.7Z"/>
<rect id="r-drom" x="49.5" y="1492.7" width="427" height="110" fill="none" stroke="#999" stroke-width="2.5"/>
</g>
<g id="region-labels">
<text class="r" x="619" y="80">Hauts-de-France</text>
<text class="r" x="699" y="287">Île-de-</text><text class="r" x="699" y="312.5">France</text>
<text class="r" x="972.5" y="307.3">Grand Est</text>
<text class="r" x="66.5" y="427.7">Normandie</text>
<text class="r" x="79.5" y="524.3">Bretagne</text>
<text class="r" x="45" y="831">Pays</text><text class="r" x="45" y="857.5">de la Loire</text>
<text class="r" x="963" y="609.3">Bourgogne-</text><text class="r" x="963" y="635.3">Franche-Comté</text>
<text class="r" x="994.5" y="772">Auvergne-</text><text class="r" x="994.5" y="798">Rhône-Alpes</text>
<text class="r" x="532" y="980.5">Centre-</text><text class="r" x="532" y="1007">Val de</text><text class="r" x="532" y="1032.7">Loire</text>
<text class="r" x="108.2" y="1120.7">Nouvelle-</text><text class="r" x="108.2" y="1146.7">Aquitaine</text>
<text class="r" x="546.5" y="1479.3">Occitanie</text>
<text class="r" x="856" y="1354">Provence-</text><text class="r" x="856" y="1380">Alpes-</text><text class="r" x="856" y="1407">Côte d'Azur</text>
<text class="r" x="951.5" y="1501.6">Corse</text>
<text class="r" x="224.5" y="1465">DROM</text>
</g>
<g id="connectors">
<path class="ar" d="M647.7 84L629 110.7"/>
<path class="ar" d="M703 290L683 317"/>
<path class="ar" d="M1011.7 316.7C1003 337 985 345 955 358.3"/>
<path class="ar" d="M171.7 413L186.7 396.7"/>
<path class="ar" d="M128.3 526.7V547.7"/>
<path class="ar" d="M158 850H190"/>
<path class="ar" d="M1021.7 639.3C1015 660 990 667 957.3 675.3"/>
<path class="ar" d="M1060 815C1058 833 1050 842 1034 845"/>
<path class="ar" d="M532.5 960V940"/>
<path class="ar" d="M206.7 1115L276 1084.3"/>
<path class="ar" d="M645 1471.7C675 1470 695 1460 705 1431.7"/>
<path class="ar" d="M939.3 1373.3C975 1370 995 1355 1000 1329"/>
<path class="ar" d="M1012.7 1495.3H1042.7"/>
<path class="ar" d="M255.7 1467.3V1488.3"/>
</g>
</svg>
